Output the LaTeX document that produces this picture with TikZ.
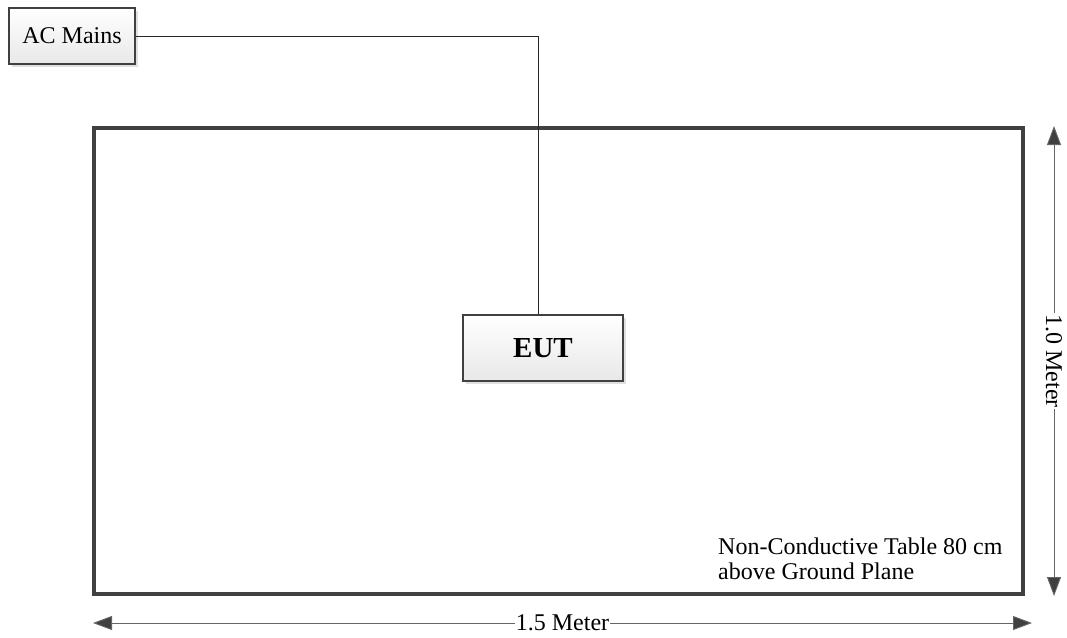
\documentclass[tikz,border=0pt]{standalone}
\usepackage{fontspec}
\setmainfont{Liberation Serif}
\usetikzlibrary{arrows.meta,shadows}

\tikzset{
  unitbox/.style={draw=black!75, line width=2.4pt, top color=white, bottom color=black!9,
    drop shadow={shadow xshift=3pt, shadow yshift=-3pt, fill=black!12, opacity=1}},
  dimline/.style={draw=black!60, line width=0.9pt,
    {Triangle[length=19pt,width=14pt,fill=black!75]}-{Triangle[length=19pt,width=14pt,fill=black!75]}},
  dimlabel/.style={fill=white, inner sep=1pt, font=\fontsize{24}{26}\selectfont}
}

\begin{document}
\begin{tikzpicture}[x=1pt, y=-1pt]
		%%%%% START %%%%%
		\useasboundingbox (0,0) rectangle (1067,637);
		
		% table
		\draw[line width=3.2pt, draw=black!75] (94, 128) rectangle (1023, 594);
		\node[anchor=north west, align=left, inner sep=0pt, font=\fontsize{24}{25}\selectfont] (tabletxt) at (718, 538) {Non-Conductive Table 80 cm\\above Ground Plane};
		
		% boxes
		\node[unitbox, minimum width=126pt, minimum height=56pt, font=\fontsize{24}{26}\selectfont] (mains) at (72, 36) {AC Mains};
		\node[unitbox, minimum width=160pt, minimum height=66pt, font=\fontsize{29}{30}\selectfont\bfseries] (eut) at (543, 348) {EUT};
		\draw[line width=0.8pt, black!85] (mains.east) -| ([xshift=-5pt]eut.north);
		
		% dimensions
		\coordinate (htop) at (1054, 126);
		\coordinate (hbot) at (1054, 596);
		\draw[dimline] (htop) -- node[dimlabel, rotate=-90] (hlbl) {1.0 Meter} (hbot);
		\coordinate (wleft) at (93, 623);
		\coordinate (wright) at (1032, 623);
		\draw[dimline] (wleft) -- node[dimlabel] (wlbl) {1.5 Meter} (wright);
		
		%%%%% END %%%%%
	\end{tikzpicture}
\end{document}
